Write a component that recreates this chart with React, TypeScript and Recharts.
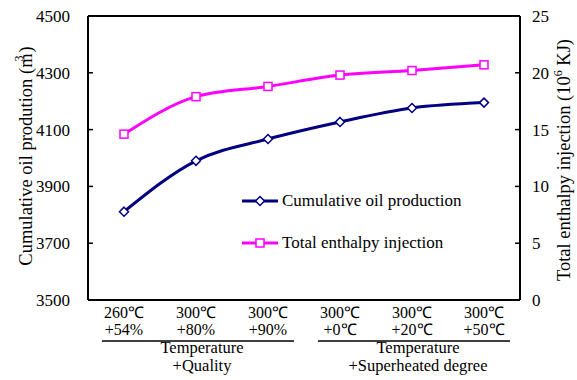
import React from 'react';
import { LineChart, Line, XAxis, YAxis, ReferenceLine } from 'recharts';

const temperatures = ['260℃', '300℃', '300℃', '300℃', '300℃', '300℃'];
const conditions = ['+54%', '+80%', '+90%', '+0℃', '+20℃', '+50℃'];
const oilProduction = [3811, 3990, 4067, 4127, 4176, 4195];
const enthalpyInjection = [14.6, 17.9, 18.8, 19.8, 20.2, 20.7];
const groupTitles = ['Temperature', 'Temperature'];
const groupSubtitles = ['+Quality', '+Superheated degree'];
const groupStarts = [0, 3];
const groupEnds = [2, 5];
const oilTicks = [3500, 3700, 3900, 4100, 4300, 4500];
const enthalpyTicks = [0, 5, 10, 15, 20, 25];

const FONT = '"Liberation Serif", "Times New Roman", serif';
const BLUE = '#000080';
const PINK = '#FF00FF';
const HALF_STEP = 36;

const data = temperatures.map((t, i) => ({
  key: `${t} ${conditions[i]}`,
  oil: oilProduction[i],
  enthalpy: enthalpyInjection[i],
}));

const Diamond = (props: any) => {
  const { cx, cy } = props;
  if (cx == null || cy == null) return null;
  return (
    <polygon
      points={`${cx},${cy - 4.5} ${cx + 4.5},${cy} ${cx},${cy + 4.5} ${cx - 4.5},${cy}`}
      fill="#fff"
      stroke={BLUE}
      strokeWidth={1.5}
    />
  );
};

const Square = (props: any) => {
  const { cx, cy } = props;
  if (cx == null || cy == null) return null;
  return <rect x={cx - 4} y={cy - 4} width={8} height={8} fill="#fff" stroke={PINK} strokeWidth={1.5} />;
};

const txt = { fontFamily: FONT, fontSize: 17, fill: '#000', style: { fontFamily: FONT } };

const CategoryTick = (props: any) => {
  const { x, y, index } = props;
  const g = groupStarts.findIndex((s, k) => index >= s && index <= groupEnds[k]);
  const isStart = groupStarts[g] === index;
  const isEnd = groupEnds[g] === index;
  const isMid = index === Math.round((groupStarts[g] + groupEnds[g]) / 2);
  const x1 = isStart ? x - 22 : x - HALF_STEP;
  const x2 = isEnd ? x + 26 : x + HALF_STEP;
  return (
    <g>
      <text x={x} y={y + 18} textAnchor="middle" {...txt} fontSize={16}>{temperatures[index]}</text>
      <text x={x} y={y + 35} textAnchor="middle" {...txt} fontSize={16}>{conditions[index]}</text>
      <line x1={x1} x2={x2} y1={y + 41} y2={y + 41} stroke="#000" strokeWidth={1.5} />
      {isMid && (
        <>
          <text x={x + 6} y={y + 53} textAnchor="middle" {...txt} fontSize={16.5}>{groupTitles[g]}</text>
          <text x={x + 6} y={y + 71} textAnchor="middle" {...txt} fontSize={16.5}>{groupSubtitles[g]}</text>
        </>
      )}
    </g>
  );
};

const LeftTick = (props: any) => {
  const { x, y, payload } = props;
  return (
    <g>
      <line x1={x} x2={x + 5} y1={y} y2={y} stroke="#000" strokeWidth={1.5} />
      <text x={x - 18} y={y} dy="0.35em" textAnchor="end" {...txt}>
        {payload.value}
      </text>
    </g>
  );
};

const RightTick = (props: any) => {
  const { x, y, payload } = props;
  return (
    <g>
      <line x1={x - 5} x2={x} y1={y} y2={y} stroke="#000" strokeWidth={1.5} />
      <text x={x + 12} y={y} dy="0.35em" textAnchor="start" {...txt}>
        {payload.value}
      </text>
    </g>
  );
};

const LeftTitle = (props: any) => {
  const { viewBox } = props;
  const x = viewBox.x + 26;
  const y = viewBox.y + viewBox.height / 2 - 2;
  return (
    <text x={x} y={y} transform={`rotate(-90 ${x} ${y})`} textAnchor="middle" dy="0.35em" {...txt} fontSize={18.5}>
      Cumulative oil prodution (m<tspan dx={-8} dy={-9} fontSize={12}>3</tspan>
      <tspan dx={3} dy={9}>)</tspan>
    </text>
  );
};

const RightTitle = (props: any) => {
  const { viewBox } = props;
  const x = viewBox.x + 44;
  const y = viewBox.y + viewBox.height / 2 + 2;
  return (
    <text x={x} y={y} transform={`rotate(-90 ${x} ${y})`} textAnchor="middle" dy="0.35em" {...txt} fontSize={18.5}>
      Total enthalpy injection (10<tspan dy={-8} fontSize={12}>6</tspan>
      <tspan dy={8}> KJ)</tspan>
    </text>
  );
};

const LegendRow = ({ color, label, marker }: { color: string; label: string; marker: 'diamond' | 'square' }) => (
  <div style={{ display: 'flex', alignItems: 'center', height: 42 }}>
    <svg width={40} height={14} style={{ display: 'block' }}>
      <line x1={2} x2={38} y1={7} y2={7} stroke={color} strokeWidth={3} />
      {marker === 'diamond' ? <Diamond cx={20} cy={7} /> : <Square cx={20} cy={7} />}
    </svg>
    <span style={{ fontFamily: FONT, fontSize: 17, color: '#000', marginLeft: 2, whiteSpace: 'nowrap' }}>{label}</span>
  </div>
);

export default function App() {
  return (
    <div style={{ position: 'relative', width: 577, height: 380, background: '#fff' }}>
      <style>{'body{margin:0}'}</style>
      <LineChart width={577} height={380} data={data} margin={{ top: 16, right: 0, bottom: 0, left: 0 }}>
        <XAxis
          dataKey="key"
          scale="point"
          padding={{ left: HALF_STEP, right: HALF_STEP }}
          height={80}
          tickLine={false}
          tickSize={0}
          tickMargin={0}
          interval={0}
          axisLine={{ stroke: '#000', strokeWidth: 2 }}
          tick={<CategoryTick />}
        />
        <YAxis
          yAxisId="oil"
          orientation="left"
          width={88}
          domain={[3500, 4500]}
          ticks={oilTicks}
          tickLine={false}
          tickSize={0}
          tickMargin={0}
          axisLine={{ stroke: '#000', strokeWidth: 2 }}
          tick={<LeftTick />}
          label={{ content: <LeftTitle /> }}
        />
        <YAxis
          yAxisId="enthalpy"
          orientation="right"
          width={57}
          domain={[0, 25]}
          ticks={enthalpyTicks}
          tickLine={false}
          tickSize={0}
          tickMargin={0}
          axisLine={{ stroke: '#000', strokeWidth: 2 }}
          tick={<RightTick />}
          label={{ content: <RightTitle /> }}
        />
        <ReferenceLine yAxisId="oil" y={4500} stroke="#000" strokeWidth={2} />
        <Line
          yAxisId="oil"
          dataKey="oil"
          type="monotone"
          stroke={BLUE}
          strokeWidth={3}
          dot={<Diamond />}
          isAnimationActive={false}
        />
        <Line
          yAxisId="enthalpy"
          dataKey="enthalpy"
          type="monotone"
          stroke={PINK}
          strokeWidth={3}
          dot={<Square />}
          isAnimationActive={false}
        />
      </LineChart>
      <div style={{ position: 'absolute', left: 240, top: 180 }}>
        <LegendRow color={BLUE} label="Cumulative oil production" marker="diamond" />
        <LegendRow color={PINK} label="Total enthalpy injection" marker="square" />
      </div>
    </div>
  );
}
